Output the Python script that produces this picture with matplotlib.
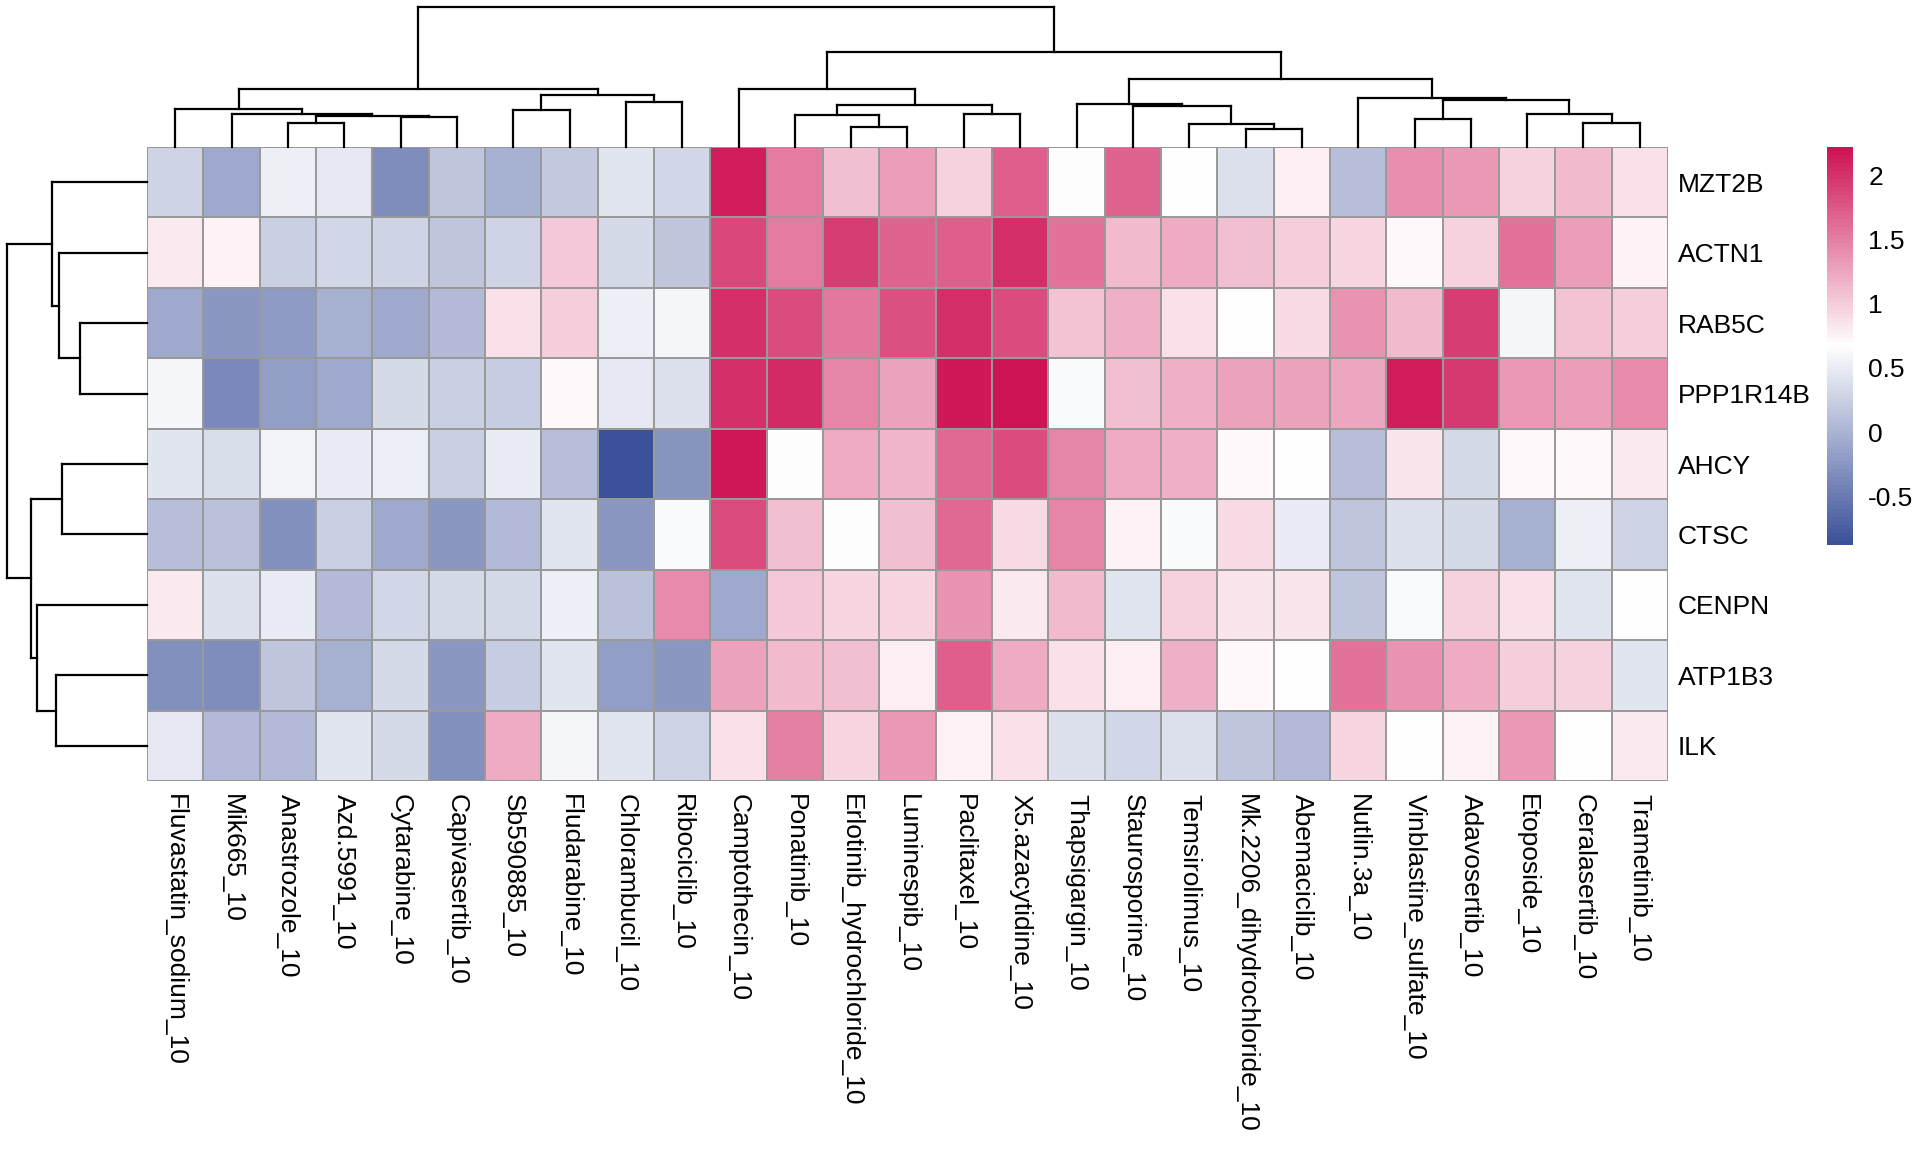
import numpy as np
import matplotlib
matplotlib.use('Agg')
import matplotlib.pyplot as plt
from matplotlib.colors import LinearSegmentedColormap, Normalize
from matplotlib.cm import ScalarMappable

plt.rcParams['font.family'] = ['Liberation Sans', 'DejaVu Sans']

drugs = ['Fluvastatin_sodium_10', 'Mik665_10', 'Anastrozole_10', 'Azd.5991_10',
         'Cytarabine_10', 'Capivasertib_10', 'Sb590885_10', 'Fludarabine_10',
         'Chlorambucil_10', 'Ribociclib_10', 'Camptothecin_10', 'Ponatinib_10',
         'Erlotinib_hydrochloride_10', 'Luminespib_10', 'Paclitaxel_10',
         'X5.azacytidine_10', 'Thapsigargin_10', 'Staurosporine_10',
         'Temsirolimus_10', 'Mk.2206_dihydrochloride_10', 'Abemaciclib_10',
         'Nutlin.3a_10', 'Vinblastine_sulfate_10', 'Adavosertib_10',
         'Etoposide_10', 'Ceralasertib_10', 'Trametinib_10']
genes = ['MZT2B', 'ACTN1', 'RAB5C', 'PPP1R14B', 'AHCY', 'CTSC', 'CENPN', 'ATP1B3', 'ILK']

# scaled values, one row per gene, columns in dendrogram order
mzt2b = [0.28, -0.10, 0.52, 0.47, -0.34, 0.16, -0.03, 0.20, 0.44, 0.30, 2.14, 1.52, 1.09, 1.32,
         0.95, 1.72, 0.64, 1.69, 0.70, 0.41, 0.79, 0.10, 1.41, 1.34, 0.96, 1.13, 0.87]
actn1 = [0.82, 0.76, 0.25, 0.30, 0.28, 0.17, 0.28, 1.03, 0.33, 0.17, 1.86, 1.52, 1.94, 1.68,
         1.71, 2.03, 1.57, 1.13, 1.21, 1.09, 1.00, 0.92, 0.73, 0.95, 1.57, 1.29, 0.76]
rab5c = [-0.10, -0.26, -0.21, -0.04, -0.09, 0.05, 0.86, 1.00, 0.52, 0.58, 2.03, 1.83, 1.55, 1.80,
         2.03, 1.82, 1.06, 1.17, 0.86, 0.70, 0.89, 1.38, 1.13, 1.91, 0.58, 1.07, 0.98]
ppp1r14b = [0.58, -0.38, -0.18, -0.10, 0.33, 0.25, 0.22, 0.73, 0.47, 0.42, 2.03, 2.04, 1.47, 1.26,
            2.17, 2.22, 0.62, 1.10, 1.17, 1.26, 1.26, 1.24, 2.14, 1.96, 1.34, 1.32, 1.43]
ahcy = [0.44, 0.38, 0.57, 0.50, 0.52, 0.25, 0.50, 0.11, -0.88, -0.29, 2.17, 0.64, 1.22, 1.15,
        1.65, 1.82, 1.47, 1.20, 1.17, 0.71, 0.67, 0.11, 0.85, 0.33, 0.73, 0.73, 0.80]
ctsc = [0.11, 0.13, -0.30, 0.25, -0.10, -0.26, 0.07, 0.44, -0.25, 0.62, 1.82, 1.08, 0.64, 1.10,
        1.65, 0.89, 1.47, 0.76, 0.62, 0.89, 0.50, 0.17, 0.41, 0.33, -0.03, 0.52, 0.28]
cenpn = [0.82, 0.41, 0.50, 0.05, 0.30, 0.33, 0.33, 0.52, 0.13, 1.43, -0.09, 1.03, 0.92, 0.94,
         1.38, 0.80, 1.13, 0.44, 0.95, 0.85, 0.85, 0.17, 0.62, 0.95, 0.88, 0.44, 0.68]
atp1b3 = [-0.30, -0.34, 0.17, -0.04, 0.33, -0.26, 0.22, 0.44, -0.18, -0.26, 1.26, 1.13, 1.09, 0.79,
          1.71, 1.20, 0.87, 0.79, 1.17, 0.71, 0.67, 1.57, 1.38, 1.22, 1.00, 0.95, 0.44]
ilk = [0.47, 0.08, 0.05, 0.44, 0.33, -0.30, 1.21, 0.58, 0.44, 0.28, 0.87, 1.50, 0.92, 1.34,
       0.76, 0.87, 0.41, 0.31, 0.41, 0.17, 0.08, 0.92, 0.68, 0.76, 1.34, 0.70, 0.80]

# hclust-style merges: (child a, child b, relative height); ids >= n are earlier merges
col_merges = [(2, 3, 0.173), (4, 5, 0.213), (27, 28, 0.221), (1, 29, 0.237), (0, 30, 0.269),
              (6, 7, 0.266), (8, 9, 0.324), (32, 33, 0.369), (31, 34, 0.412),
              (12, 13, 0.144), (11, 36, 0.230), (14, 15, 0.237), (37, 38, 0.297), (10, 39, 0.417),
              (19, 20, 0.129), (18, 41, 0.161), (17, 42, 0.293), (16, 43, 0.305),
              (22, 23, 0.197), (25, 26, 0.168), (24, 46, 0.233), (45, 47, 0.338), (21, 48, 0.353),
              (44, 49, 0.484), (40, 50, 0.676), (35, 51, 1.000)]
row_merges = [(2, 3, 0.482), (1, 9, 0.628), (0, 10, 0.676), (4, 5, 0.607),
              (7, 8, 0.650), (6, 13, 0.789), (12, 14, 0.832), (11, 15, 1.000)]

data = np.array([mzt2b, actn1, rab5c, ppp1r14b, ahcy, ctsc, cenpn, atp1b3, ilk])
nrow, ncol = data.shape

cmap = LinearSegmentedColormap.from_list('bwr_custom', ['#3B5199', '#FFFFFF', '#CE1256'], N=100)
norm = Normalize(vmin=data.min(), vmax=data.max())


def dendro_segments(merges, n):
    pos = {i: i + 0.5 for i in range(n)}
    hgt = {i: 0.0 for i in range(n)}
    segs = []
    for k, (a, b, h) in enumerate(merges):
        segs.append(((pos[a], hgt[a]), (pos[a], h)))
        segs.append(((pos[b], hgt[b]), (pos[b], h)))
        segs.append(((pos[a], h), (pos[b], h)))
        pos[n + k] = (pos[a] + pos[b]) / 2
        hgt[n + k] = h
    return segs


W, H = 1920, 1152
fig = plt.figure(figsize=(W / 100, H / 100), dpi=100)

hm_l, hm_r, hm_t, hm_b = 147, 1668, 147, 781
ax = fig.add_axes([hm_l / W, 1 - hm_b / H, (hm_r - hm_l) / W, (hm_b - hm_t) / H])
ax.pcolormesh(np.arange(ncol + 1), np.arange(nrow + 1), data, cmap=cmap, norm=norm,
              edgecolors='#999999', linewidth=1.2)
ax.set_xlim(0, ncol)
ax.set_ylim(nrow, 0)
for s in ax.spines.values():
    s.set_visible(False)
ax.set_xticks(np.arange(ncol) + 0.5)
ax.set_xticklabels(drugs, rotation=270, fontsize=19, va='top', ha='center')
ax.set_yticks(np.arange(nrow) + 0.5)
ax.set_yticklabels(genes, fontsize=19)
ax.yaxis.tick_right()
ax.tick_params(axis='both', length=0)
ax.tick_params(axis='x', pad=9)
ax.tick_params(axis='y', pad=7)

# column dendrogram
axc = fig.add_axes([hm_l / W, 1 - hm_t / H, (hm_r - hm_l) / W, (hm_t - 7) / H])
for (x0, y0), (x1, y1) in dendro_segments(col_merges, ncol):
    axc.plot([x0, x1], [y0, y1], color='black', lw=1.6, clip_on=False, solid_capstyle='projecting')
axc.set_xlim(0, ncol)
axc.set_ylim(0, 1)
axc.axis('off')

# row dendrogram
axr = fig.add_axes([7 / W, 1 - hm_b / H, (hm_l - 7) / W, (hm_b - hm_t) / H])
for (y0, x0), (y1, x1) in dendro_segments(row_merges, nrow):
    axr.plot([x0, x1], [y0, y1], color='black', lw=1.6, clip_on=False, solid_capstyle='projecting')
axr.set_ylim(nrow, 0)
axr.set_xlim(1, 0)
axr.axis('off')

# colour key
cax = fig.add_axes([1827 / W, 1 - 545 / H, 26 / W, (545 - 147) / H])
cb = fig.colorbar(ScalarMappable(norm=norm, cmap=cmap), cax=cax)
cb.outline.set_visible(False)
cb.set_ticks([-0.5, 0, 0.5, 1, 1.5, 2])
cb.set_ticklabels(['-0.5', '0', '0.5', '1', '1.5', '2'])
cax.tick_params(length=0, labelsize=19, pad=11)

fig.savefig('out.png', dpi=100, facecolor='white')
